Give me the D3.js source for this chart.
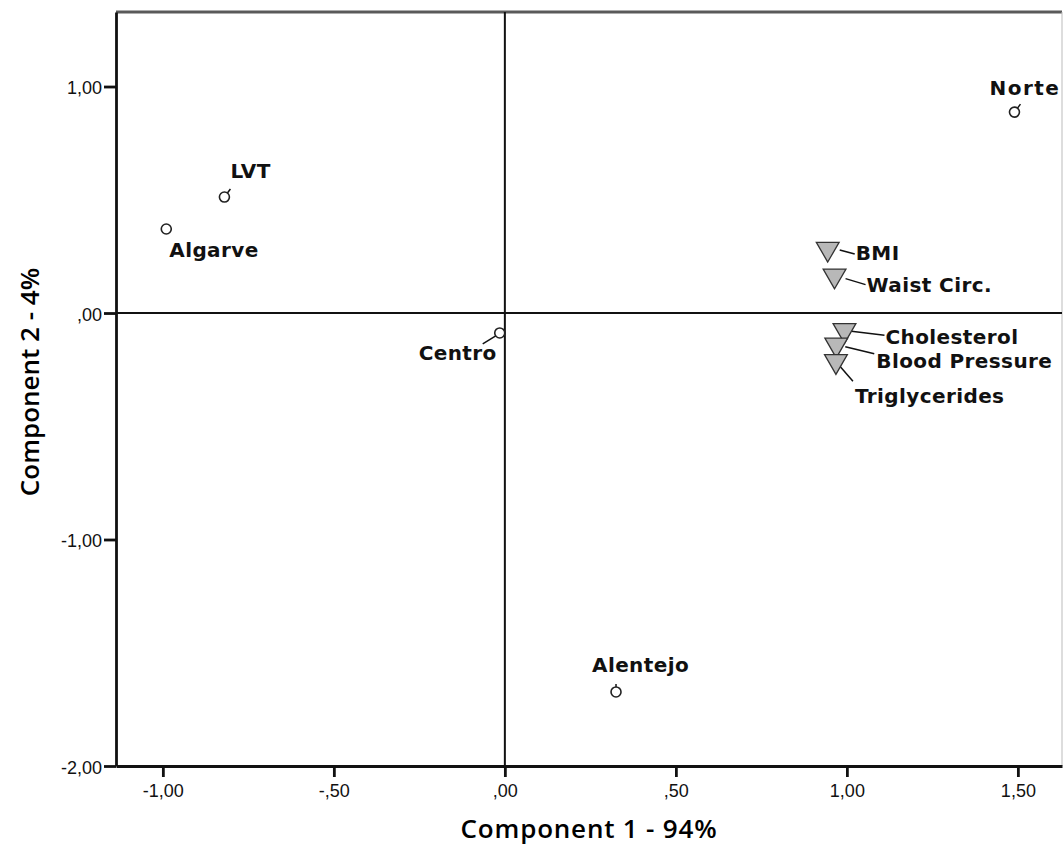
<!DOCTYPE html>
<html>
<head>
<meta charset="utf-8">
<script src="https://cdn.jsdelivr.net/npm/d3@7"></script>
<style>
  body { margin: 0; background: #fff; }
  svg { display: block; }
</style>
</head>
<body>
<div id="chart"></div>
<script>
// Data
var objNames = ["Norte", "Centro", "LVT", "Alentejo", "Algarve"];
var objX = [1.49, -0.015, -0.82, 0.325, -0.99];
var objY = [0.887, -0.088, 0.512, -1.673, 0.371];

var varNames = ["BMI", "Waist Circ.", "Cholesterol", "Blood Pressure", "Triglycerides"];
var varX = [0.944, 0.964, 0.993, 0.969, 0.968];
var varY = [0.283, 0.165, -0.076, -0.14, -0.213];

var xTicks = [-1, -0.5, 0, 0.5, 1, 1.5];
var yTicks = [-2, -1, 0, 1];

// label placement (pixels, relative to the marker): [dx, dy, anchor, lx1, ly1, lx2, ly2]
var labelPos = {
  "Norte": [-25, -17, "start", 3, -4, 6, -8],
  "Centro": [-3, 27, "end", -4, 3, -17, 11],
  "LVT": [6, -19, "start", 3, -4, 6, -8],
  "Alentejo": [-24, -20, "start", 0, -4, 0, -8],
  "Algarve": [3, 28, "start", 0, 0, 0, 0],
  "BMI": [28, 11, "start", 12, 1, 27, 5],
  "Waist Circ.": [32, 16, "start", 11, 3, 31, 9],
  "Cholesterol": [41, 14, "start", 7, 1, 40, 5],
  "Blood Pressure": [40, 23, "start", 9, 2, 38, 9],
  "Triglycerides": [19, 42, "start", 4, 5, 17, 20]
};

var width = 1063, height = 845;
var plotLeft = 116, plotRight = 1062, plotTop = 12, plotBottom = 766;

var svg = d3.select("#chart").append("svg")
  .attr("width", width)
  .attr("height", height);

var x = d3.scaleLinear().domain([-1.137, 1.629]).range([plotLeft, plotRight]);
var y = d3.scaleLinear().domain([-2, 1.329]).range([plotBottom, plotTop]);

var fmt = function(v) {
  var s = d3.format(".2f")(Math.abs(v)).replace(".", ",").replace(/^0,/, ",");
  return (v < 0 ? "-" : "") + s;
};

// frame top + right
svg.append("line")
  .attr("x1", plotLeft).attr("x2", plotRight).attr("y1", plotTop).attr("y2", plotTop)
  .attr("stroke", "#5a5a5a").attr("stroke-width", 3);
svg.append("line")
  .attr("x1", plotRight).attr("x2", plotRight).attr("y1", plotTop).attr("y2", plotBottom)
  .attr("stroke", "#bbb").attr("stroke-width", 1);

// reference lines
svg.append("line")
  .attr("x1", x(0)).attr("x2", x(0)).attr("y1", plotTop).attr("y2", plotBottom)
  .attr("stroke", "#111").attr("stroke-width", 2);
svg.append("line")
  .attr("x1", plotLeft).attr("x2", plotRight).attr("y1", y(0)).attr("y2", y(0))
  .attr("stroke", "#111").attr("stroke-width", 2.2);

// axes
var xAxis = svg.append("g")
  .attr("transform", "translate(0," + plotBottom + ")")
  .call(d3.axisBottom(x).tickValues(xTicks).tickFormat(fmt).tickSize(11).tickSizeOuter(0));
var yAxis = svg.append("g")
  .attr("transform", "translate(" + plotLeft + ",0)")
  .call(d3.axisLeft(y).tickValues(yTicks).tickFormat(fmt).tickSize(12).tickSizeOuter(0));

[xAxis, yAxis].forEach(function(a) {
  a.select(".domain").attr("stroke", "#111").attr("stroke-width", 2.8);
  a.selectAll(".tick line").attr("stroke", "#111").attr("stroke-width", 2.8);
  a.selectAll(".tick text")
    .attr("fill", "#111")
    .style("font-family", "'Liberation Sans', Arial, sans-serif")
    .style("font-size", "18px");
});
xAxis.selectAll(".tick text").attr("y", 18);
yAxis.selectAll(".tick text").attr("x", -14).attr("dy", "0.4em");

// axis titles
svg.append("text")
  .attr("x", 589).attr("y", 838)
  .attr("text-anchor", "middle")
  .style("font-family", "'Open Sans', sans-serif")
  .style("font-size", "26px")
  .style("font-weight", "600")
  .style("letter-spacing", "0.8px")
  .attr("fill", "#000")
  .text("Component 1 - 94%");
svg.append("text")
  .attr("transform", "translate(39,382) rotate(-90)")
  .attr("text-anchor", "middle")
  .style("font-family", "'Open Sans', sans-serif")
  .style("font-size", "26px")
  .style("font-weight", "600")
  .attr("fill", "#000")
  .text("Component 2 - 4%");

var labelFont = "'DejaVu Sans', Verdana, sans-serif";

function drawLabels(names, xs, ys) {
  names.forEach(function(n, i) {
    var px = x(xs[i]), py = y(ys[i]), p = labelPos[n];
    if (p[3] !== p[5] || p[4] !== p[6]) {
      svg.append("line")
        .attr("x1", px + p[3]).attr("y1", py + p[4])
        .attr("x2", px + p[5]).attr("y2", py + p[6])
        .attr("stroke", "#111").attr("stroke-width", 1.5);
    }
    svg.append("text")
      .attr("x", px + p[0]).attr("y", py + p[1])
      .attr("text-anchor", p[2])
      .style("font-family", labelFont)
      .style("font-weight", "bold")
      .style("font-size", "20px")
      .style("letter-spacing", n === "Norte" ? "1.5px" : "0.4px")
      .attr("fill", "#111")
      .text(n);
  });
}

drawLabels(objNames, objX, objY);
drawLabels(varNames, varX, varY);

// object points
svg.selectAll("circle.obj")
  .data(objNames)
  .enter().append("circle")
  .attr("class", "obj")
  .attr("cx", function(d, i) { return x(objX[i]); })
  .attr("cy", function(d, i) { return y(objY[i]); })
  .attr("r", 5)
  .attr("fill", "#fff")
  .attr("stroke", "#222")
  .attr("stroke-width", 1.6);

// variable points
var tri = d3.symbol().type(d3.symbolTriangle).size(225);
svg.selectAll("path.var")
  .data(varNames)
  .enter().append("path")
  .attr("class", "var")
  .attr("d", tri)
  .attr("transform", function(d, i) {
    return "translate(" + x(varX[i]) + "," + y(varY[i]) + ") rotate(180)";
  })
  .attr("fill", "#b8b8b8")
  .attr("stroke", "#333")
  .attr("stroke-width", 1.3);
</script>
</body>
</html>
